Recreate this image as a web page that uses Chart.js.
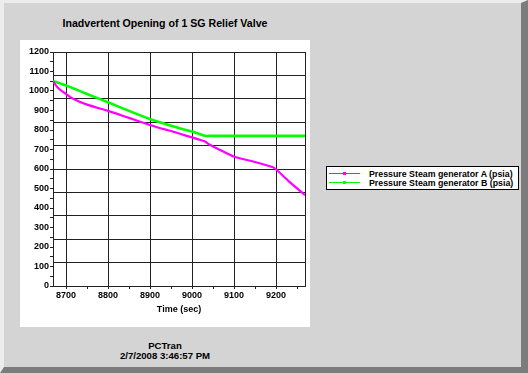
<!DOCTYPE html>
<html>
<head>
<meta charset="utf-8">
<script src="https://cdn.jsdelivr.net/npm/chart.js@4.4.1/dist/chart.umd.min.js"></script>
<style>
    html, body { margin: 0; padding: 0; }
    body { width: 528px; height: 373px; overflow: hidden; font-family: "Liberation Sans", Arial, sans-serif; }
    .frame {
        position: relative; width: 528px; height: 373px; box-sizing: border-box;
        background: #d4d4d4;
        border-left: 4px solid #ececec; border-top: 3px solid #ececec;
        border-right: 7px solid #7c7c7c; border-bottom: 6px solid #7c7c7c;
    }
    .title { position: absolute; left: 16px; top: 14px; width: 290px; text-align: center; font-weight: bold; font-size: 10.6px; color: #000; }
    .panel { position: absolute; left: 16px; top: 37px; width: 290px; height: 287px; background: #fff; }
    .footer { position: absolute; left: 16px; top: 338px; width: 290px; text-align: center; font-weight: bold; font-size: 9.6px; line-height: 9.5px; color: #000; }
    .legend { position: absolute; left: 322px; top: 163px; width: 193px; height: 24px; box-sizing: border-box; border: 1px solid #000; background: #fff; padding-top: 2px; }
    .legend-row { display: flex; align-items: center; height: 9px; font-weight: bold; font-size: 8.8px; }
    .legend-line { position: relative; width: 31px; height: 1px; margin: 0 9px 0 2px; }
    .legend-line i { position: absolute; left: 14px; top: -1px; width: 3px; height: 3px; }
</style>
</head>
<body>
<div class="frame">
    <div class="title">Inadvertent Opening of 1 SG Relief Valve</div>
    <div class="panel"><canvas id="chart" width="290" height="287"></canvas></div>
    <div class="legend" id="legend"></div>
    <div class="footer">PCTran<br>2/7/2008 3:46:57 PM</div>
</div>
<script>
// time axis (sec) and the two pressure traces (psia)
const times = [8669, 8674, 8680, 8690, 8700, 8717, 8750, 8800, 8850, 8900, 8925, 8950, 8975, 9000, 9031, 9040, 9060, 9100, 9150, 9194, 9202, 9230, 9269];
const pressureA = [1050, 1035, 1018, 1000, 985, 960, 930, 898, 862, 826, 809, 795, 778, 762, 741, 727, 705, 663, 636, 608, 595, 538, 466];
const pressureB = [1050, 1048, 1044, 1036, 1028, 1014, 985, 942, 898, 856, 838, 822, 806, 792, 770, 770, 770, 770, 770, 770, 770, 770, 770];

const seriesLabels = ['Pressure Steam generator A (psia)', 'Pressure Steam generator B (psia)'];
const seriesColors = ['#ff00ff', '#00ff00'];

// axis ranges and tick positions
const xMin = 8669, xMax = 9269;
const xTicks = [8700, 8750, 8800, 8850, 8900, 8950, 9000, 9050, 9100, 9150, 9200, 9250];
const yMin = 0, yMax = 1200;

const tickFont = { family: 'Liberation Sans', size: 9, weight: 'bold' };

function toPoints(values) {
    return times.map((t, i) => ({ x: t, y: values[i] }));
}

// plot frame (top/right edges of the plot box)
const boxFrame = {
    id: 'boxFrame',
    beforeDatasetsDraw(chart) {
        const { ctx, chartArea: a } = chart;
        ctx.save();
        ctx.strokeStyle = '#222';
        ctx.lineWidth = 1;
        ctx.strokeRect(Math.round(a.left) + 0.5, Math.round(a.top) + 0.5, Math.round(a.right - a.left), Math.round(a.bottom - a.top));
        ctx.restore();
    }
};

const chart = new Chart(document.getElementById('chart'), {
    type: 'line',
    data: {
        datasets: [
            { label: seriesLabels[0], data: toPoints(pressureA), borderColor: seriesColors[0], backgroundColor: seriesColors[0], borderWidth: 2.2, pointRadius: 0, tension: 0.2 },
            { label: seriesLabels[1], data: toPoints(pressureB), borderColor: seriesColors[1], backgroundColor: seriesColors[1], borderWidth: 2.6, pointRadius: 0, tension: 0.2 }
        ]
    },
    options: {
        responsive: false,
        animation: false,
        layout: { padding: { top: 12, right: 5, left: 0, bottom: 0 } },
        plugins: { legend: { display: false }, tooltip: { enabled: false } },
        scales: {
            x: {
                type: 'linear', min: xMin, max: xMax,
                afterBuildTicks: s => { s.ticks = xTicks.map(v => ({ value: v })); },
                ticks: {
                    autoSkip: false, maxRotation: 0,
                    font: tickFont, color: '#000', padding: 1,
                    callback: v => (v % 100 === 0 ? String(v) : '')
                },
                grid: {
                    color: c => (c.tick && c.tick.value % 100 === 0 ? '#222' : 'rgba(0,0,0,0)'),
                    tickColor: '#222', tickLength: 3
                },
                border: { color: '#222' },
                title: { display: true, text: 'Time (sec)', font: tickFont, color: '#000', padding: { top: 0, bottom: 12 } },
                afterFit: s => { s.height = 41; }
            },
            y: {
                type: 'linear', min: yMin, max: yMax,
                ticks: {
                    stepSize: 50, autoSkip: false, font: tickFont, color: '#000', padding: 1,
                    callback: v => (v % 100 === 0 ? String(v) : '')
                },
                grid: { drawOnChartArea: false, tickColor: '#222', tickLength: 3 },
                border: { color: '#222' },
                afterFit: s => { s.width = 33; }
            },
            yg: {
                type: 'linear', position: 'right', min: yMin, max: yMax,
                ticks: { stepSize: 120, display: false },
                grid: { color: '#222', drawTicks: false },
                border: { display: false },
                afterFit: s => { s.width = 0; }
            }
        }
    },
    plugins: [boxFrame]
});

// legend box built from the datasets
document.getElementById('legend').innerHTML = chart.data.datasets.map(ds => `
    <div class="legend-row">
        <span class="legend-line" style="background:${ds.borderColor}"><i style="background:${ds.borderColor}"></i></span>
        <span>${ds.label}</span>
    </div>`).join('');
</script>
</body>
</html>
